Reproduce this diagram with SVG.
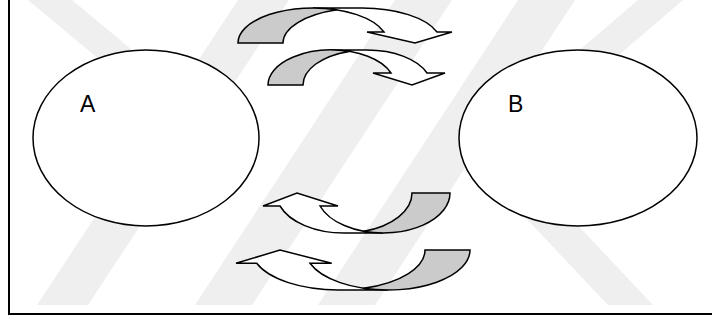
<svg xmlns="http://www.w3.org/2000/svg" width="712" height="320" viewBox="0 0 712 320">
<style>
.wm{fill:#efefef}
.ell{fill:#fff;stroke:#000;stroke-width:1.5}
.front{fill:#fff;stroke:#000;stroke-width:1.5;stroke-linejoin:miter}
.back{fill:#cbcbcb;stroke:#000;stroke-width:1.5}
.lbl{font-family:"Liberation Sans",Arial,sans-serif;font-size:23px;fill:#000}
.frame{stroke:#000;stroke-width:2;fill:none}
</style>
<rect width="712" height="320" fill="#fff"/>
<g id="watermark">
<polygon class="wm" points="28,0 72,0 192,100 148,100"/>
<polygon class="wm" points="37,305 88,305 289,0 238,0"/>
<polygon class="wm" points="195,305 252,305 452,0 395,0"/>
<polygon class="wm" points="318,305 375,305 575,0 518,0"/>
<polygon class="wm" points="638,0 683,0 613,60 568,60"/>
<polygon class="wm" points="608,305 653,305 568,215 523,215"/>
</g>
<g id="frame"><path class="frame" d="M9,0 V314 H712"/></g>
<g id="node-A"><ellipse class="ell" cx="146" cy="138" rx="113" ry="88"/><text class="lbl" x="80" y="111.5">A</text></g>
<g id="node-B"><ellipse class="ell" cx="578" cy="138" rx="119" ry="88"/><text class="lbl" x="508" y="111.5">B</text></g>
<g id="connectors">
<g id="arrow1">
<path class="front" d="M313,8 L362,8 A79,35 0 0 1 437,32 L452,32 L415,43 L367,32 L384,32 A75,35 0 0 0 313,8 Z"/>
<path class="back" d="M238,43 A75,35 0 0 1 336.9,9.8 A79,35 0 0 0 283,43 Z"/>
</g>
<g id="arrow2">
<path class="front" d="M331.4,50 L367,50 A64,35 0 0 1 427,73 L445,73 L412,85 L373,73 L391,73 A63.4,35 0 0 0 331.4,50 Z"/>
<path class="back" d="M268,85 A63.4,35 0 0 1 349.1,51.4 A64,35 0 0 0 303,85 Z"/>
</g>
<g id="arrow3">
<path class="front" d="M383.2,233 L344.2,233 A67.8,40 0 0 1 280,206 L263,206 L297,193 L338,206 L320,206 A66.8,40 0 0 0 383.2,233 Z"/>
<path class="back" d="M450,193 A66.8,40 0 0 1 363.9,231.3 A67.8,40 0 0 0 412,193 Z"/>
</g>
<g id="arrow4">
<path class="front" d="M387.7,290 L338.4,290 A86.6,40 0 0 1 256.7,263.3 L236,263.3 L280,250 L331.7,263.3 L310,263.3 A82.3,40 0 0 0 387.7,290 Z"/>
<path class="back" d="M470,250 A82.3,40 0 0 1 363.7,288.3 A86.6,40 0 0 0 425,250 Z"/>
</g>
</g>
</svg>
